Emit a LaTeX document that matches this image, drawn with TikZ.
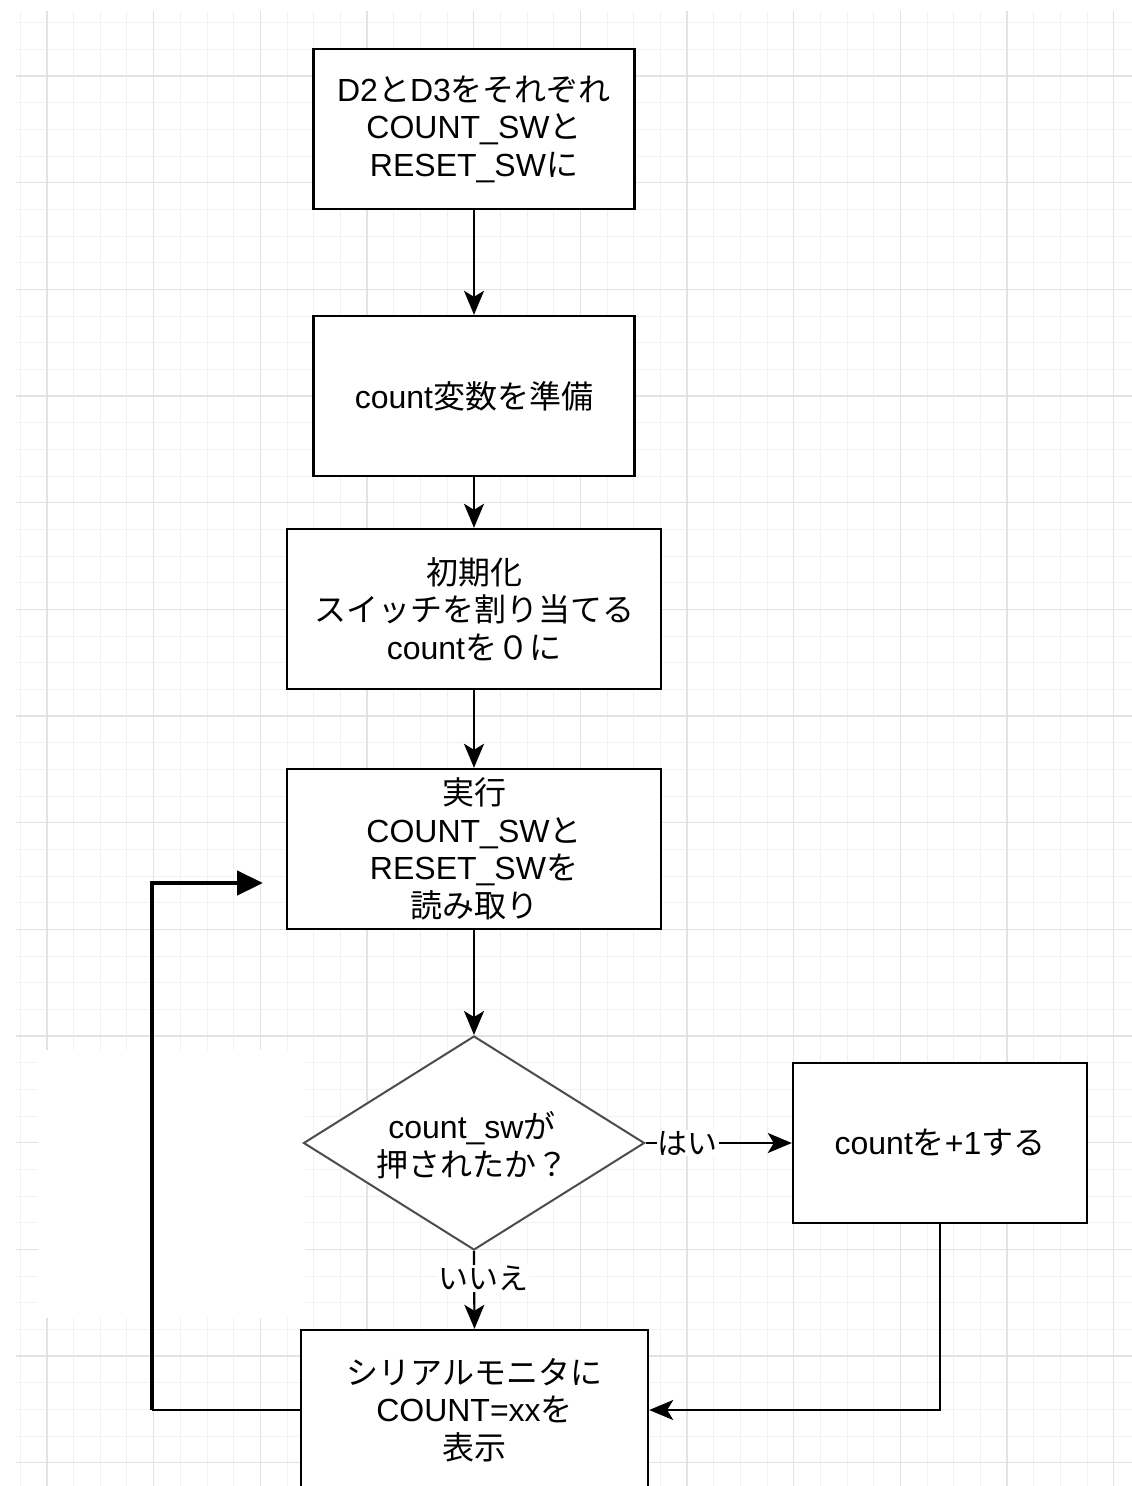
\documentclass[tikz,border=0pt]{standalone}
\usepackage{fontspec}
\setmainfont{Noto Sans CJK JP}
\newfontfamily\latn{Liberation Sans}
\usetikzlibrary{shapes.geometric,arrows.meta}
\begin{document}
\begin{tikzpicture}[x=1pt,y=-1pt,
  box/.style={draw=black, line width=2.4pt, fill=white, minimum width=#1, minimum height=160pt, inner sep=0pt, align=center, font=\fontsize{32}{37.5}\selectfont},
  txt/.style={inner sep=0pt, align=center, font=\fontsize{32}{37.5}\selectfont},
  conn/.style={line width=2.2pt, -{Stealth[length=24pt, width=20pt, inset=6pt]}},
  lbl/.style={fill=white, inner sep=1pt, font=\fontsize{30}{32}\selectfont},
  minorgrid/.style={draw=black!5, line width=1pt},
  majorgrid/.style={draw=black!11, line width=1.5pt}]
\useasboundingbox (0,0) rectangle (1132,1486);
\fill[white] (0,0) rectangle (1132,1486);
% grid
\begin{scope}
\clip (16,11) rectangle (1132,1486);
\foreach \i in {0,...,42} { \draw[minorgrid] ({20.33+26.667*\i},11) -- ({20.33+26.667*\i},1486); }
\foreach \i in {0,...,55} { \draw[minorgrid] (16,{22.67+26.667*\i}) -- (1132,{22.67+26.667*\i}); }
\foreach \i in {0,...,10} { \draw[majorgrid] ({47+106.667*\i},11) -- ({47+106.667*\i},1486); }
\foreach \i in {0,...,13} { \draw[majorgrid] (16,{76+106.667*\i}) -- (1132,{76+106.667*\i}); }
\end{scope}
\fill[white] (38,1050) rectangle (305,1318);
% nodes
\node[box=321pt] (b1) at (474,129) {{\latn D2}と{\latn D3}をそれぞれ\\{\latn COUNT\_SW}と\\{\latn RESET\_SW}に};
\node[box=321pt] (b2) at (474,396) {{\latn count}変数を準備};
\node[box=374pt] (b3) at (474,609) {初期化\\スイッチを割り当てる\\{\latn count}を０に};
\node[box=374pt] (b4) at (474,849) {実行\\{\latn COUNT\_SW}と\\{\latn RESET\_SW}を\\読み取り};
\node[diamond, draw=black!70, line width=2pt, fill=white, minimum width=341pt, minimum height=214pt, inner sep=0pt] (d) at (474,1143) {};
\node[txt] (dt) at (472,1145) {{\latn count\_sw}が\\押されたか？};
\node[box=294pt] (br) at (940,1143) {{\latn count}を{\latn +1}する};
\node[box=347pt] (b5) at (474.5,1410) {シリアルモニタに\\{\latn COUNT=xx}を\\表示};
% connectors
\draw[conn] (b1) -- (b2);
\draw[conn] (b2) -- (b3);
\draw[conn] (b3) -- (b4);
\draw[conn] (b4) -- (d);
\draw[conn] (d.south) -- node[lbl, pos=0.35, xshift=9pt] {いいえ} (b5.north);
\draw[conn] (d.east) -- node[lbl, pos=0.29] {はい} (br.west);
\draw[conn] (br.south) |- (b5.east);
\coordinate (lp) at (152,1410);
\coordinate (lt) at (263,883);
\draw[line width=2pt] (b5.west) -- (lp);
\draw[line width=4.5pt, -{Triangle[length=26pt,width=24pt]}] (lp) |- (lt);
\end{tikzpicture}
\end{document}
